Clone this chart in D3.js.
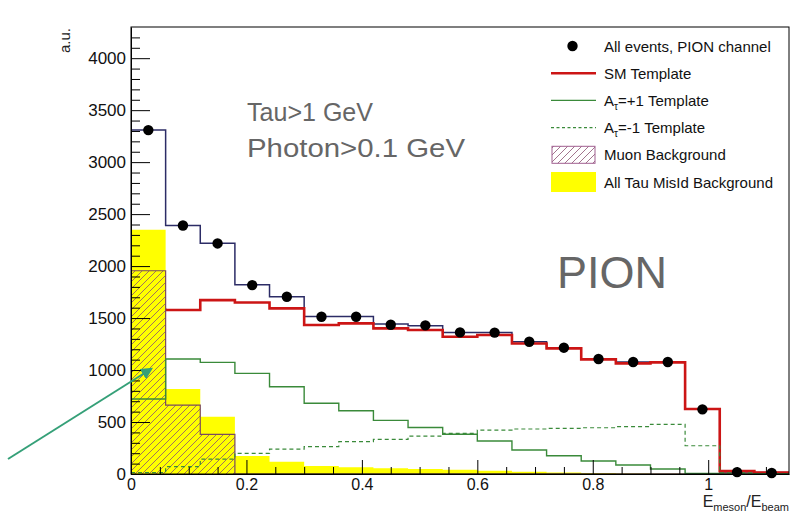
<!DOCTYPE html>
<html>
<head>
<meta charset="utf-8">
<script src="https://d3js.org/d3.v7.min.js"></script>
<style>
  body { margin: 0; background: #fff; }
  svg text { font-family: "Liberation Sans", Arial, sans-serif; }
</style>
</head>
<body>
<svg id="chart" width="790" height="515"></svg>
<script>
// histogram bins in E_meson/E_beam
const binEdges = [0, 0.06, 0.12, 0.18, 0.24, 0.30, 0.36, 0.42, 0.48, 0.54, 0.60,
                  0.66, 0.72, 0.78, 0.84, 0.90, 0.96, 1.02, 1.08, 1.14];

// values per bin (a.u.)
const allEvents  = [3308, 2390, 2218, 1817, 1705, 1513, 1513, 1436, 1430, 1362,
                    1360, 1272, 1215, 1106, 1077, 1077, 622, 18, 10];
const totalFit   = [3310, 2390, 2220, 1820, 1705, 1515, 1515, 1442, 1426, 1362,
                    1360, 1272, 1215, 1106, 1077, 1077, 622, 20, 14];
const smTemplate = [1580, 1577, 1673, 1650, 1593, 1433, 1449, 1401, 1385, 1320,
                    1337, 1256, 1208, 1103, 1064, 1074, 625, 28, 15];
const plusOne    = [721, 1106, 1074, 968, 840, 680, 609, 516, 447, 383,
                    317, 231, 176, 125, 87, 48, 5, 0, 0];
const minusOne   = [13, 70, 144, 199, 240, 263, 311, 333, 365, 391,
                    423, 433, 439, 445, 455, 478, 272, 10, 5];
const tauMisId   = [2350, 817, 551, 173, 119, 77, 64, 55, 48, 42,
                    32, 22, 15, 10, 6, 3, 0, 0, 0];
const muonBkg    = [1955, 663, 381, 0, 0, 0, 0, 0, 0, 0,
                    0, 0, 0, 0, 0, 0, 0, 0, 0];

const xTicks = [0, 0.2, 0.4, 0.6, 0.8, 1];
const yTicks = [0, 500, 1000, 1500, 2000, 2500, 3000, 3500, 4000];

const legendLabels = ['All events, PION channel', 'SM Template', 'A|τ|=+1 Template',
                      'A|τ|=-1 Template', 'Muon Background', 'All Tau MisId Background'];

const svg = d3.select('#chart');
const margin = {top: 27, right: 1, bottom: 41, left: 131};
const W = 790, H = 515;

const x = d3.scaleLinear().domain([0, 1.14]).range([margin.left, W - margin.right]);
const y = d3.scaleLinear().domain([0, 4300]).range([H - margin.bottom, margin.top]);

// hatch pattern for the muon background
const defs = svg.append('defs');
const pat = defs.append('pattern')
    .attr('id', 'hatch')
    .attr('patternUnits', 'userSpaceOnUse')
    .attr('width', 7).attr('height', 7);
pat.append('path')
    .attr('d', 'M0,7 L7,0 M-1,1 L1,-1 M6,8 L8,6')
    .attr('stroke', '#8a5070')
    .attr('stroke-width', 0.8);

// step helpers
function stepPoints(vals) {
    const pts = vals.map((v, i) => [binEdges[i], v]);
    pts.push([binEdges[vals.length], vals[vals.length - 1]]);
    return pts;
}
const stepLine = d3.line()
    .x(d => x(d[0])).y(d => y(d[1]))
    .curve(d3.curveStepAfter);
const stepArea = d3.area()
    .x(d => x(d[0])).y0(y(0)).y1(d => y(d[1]))
    .curve(d3.curveStepAfter);

const plot = svg.append('g');

// total (blue) and SM template (red)
plot.append('path')
    .attr('d', stepLine(stepPoints(totalFit)))
    .attr('fill', 'none')
    .attr('stroke', '#2c2c66')
    .attr('stroke-width', 1.5);
plot.append('path')
    .attr('d', stepLine(stepPoints(smTemplate)))
    .attr('fill', 'none')
    .attr('stroke', '#cc1515')
    .attr('stroke-width', 2.6);

// backgrounds
plot.append('path')
    .attr('d', stepArea(stepPoints(tauMisId)))
    .attr('fill', '#ffff00')
    .attr('stroke', 'none');
plot.append('path')
    .attr('d', stepArea(stepPoints(muonBkg)))
    .attr('fill', 'url(#hatch)')
    .attr('stroke', 'none');
plot.append('path')
    .attr('d', stepLine(stepPoints(muonBkg)))
    .attr('fill', 'none')
    .attr('stroke', '#7a4a60')
    .attr('stroke-width', 1.2);

// A_tau templates
plot.append('path')
    .attr('d', stepLine(stepPoints(plusOne)))
    .attr('fill', 'none')
    .attr('stroke', '#3a8a3a')
    .attr('stroke-width', 1.4);
plot.append('path')
    .attr('d', stepLine(stepPoints(minusOne)))
    .attr('fill', 'none')
    .attr('stroke', '#3a8a3a')
    .attr('stroke-width', 1.2)
    .attr('stroke-dasharray', '4,3');

// data points
plot.selectAll('circle.pt')
    .data(allEvents)
    .join('circle')
    .attr('class', 'pt')
    .attr('cx', (d, i) => x((binEdges[i] + binEdges[i + 1]) / 2))
    .attr('cy', d => y(d))
    .attr('r', 5.2)
    .attr('fill', '#000');

// frame
svg.append('rect')
    .attr('x', x(0)).attr('y', y(4300))
    .attr('width', x(1.14) - x(0)).attr('height', y(0) - y(4300))
    .attr('fill', 'none').attr('stroke', '#000').attr('stroke-width', 1);

// axes, ROOT style: ticks pointing inward
const yMinor = d3.range(0, 4300, 100).filter(v => v % 500 !== 0);
svg.append('g')
    .attr('transform', `translate(${x(0)},0)`)
    .call(d3.axisLeft(y).tickValues(yMinor).tickSize(-9).tickFormat(''))
    .call(g => g.select('.domain').remove());
svg.append('g')
    .attr('transform', `translate(${x(0)},0)`)
    .call(d3.axisLeft(y).tickValues(yTicks).tickSize(-19).tickSizeOuter(0).tickPadding(5)
        .tickFormat(d3.format('d')))
    .call(g => g.select('.domain').attr('stroke', '#000'))
    .call(g => g.selectAll('text').attr('font-size', 17).attr('fill', '#111'));

const xMinor = d3.range(0.05, 1.14, 0.05).filter(v => Math.abs(v * 5 - Math.round(v * 5)) > 1e-6);
svg.append('g')
    .attr('transform', `translate(0,${y(0)})`)
    .call(d3.axisBottom(x).tickValues(xMinor).tickSize(-7).tickFormat(''))
    .call(g => g.select('.domain').remove());
svg.append('g')
    .attr('transform', `translate(0,${y(0)})`)
    .call(d3.axisBottom(x).tickValues(xTicks).tickSize(-14).tickSizeOuter(0).tickPadding(5)
        .tickFormat(d3.format('~g')))
    .call(g => g.select('.domain').attr('stroke', '#000'))
    .call(g => g.selectAll('text').attr('font-size', 16).attr('fill', '#111'));

// axis titles
svg.append('text')
    .attr('transform', `translate(70,53) rotate(-90)`)
    .attr('text-anchor', 'start')
    .attr('font-size', 15)
    .attr('fill', '#222')
    .text('a.u.');

const xt = svg.append('text')
    .attr('x', 789).attr('y', 507)
    .attr('text-anchor', 'end')
    .attr('font-size', 16)
    .attr('fill', '#222');
xt.append('tspan').text('E');
xt.append('tspan').attr('font-size', 11).attr('dy', 4).text('meson');
xt.append('tspan').attr('dy', -4).text('/E');
xt.append('tspan').attr('font-size', 11).attr('dy', 4).text('beam');

// legend
const lg = svg.append('g').attr('font-size', 15).attr('fill', '#111');
const rowY = i => 46 + i * 27.2;
const symX0 = 551, symX1 = 596, txtX = 604;
legendLabels.forEach((lab, i) => {
    const t = lg.append('text').attr('x', txtX).attr('y', rowY(i) + 5.5);
    const parts = lab.split('|');
    t.append('tspan').text(parts[0]);
    if (parts.length > 1) {
        t.append('tspan').attr('font-size', 10).attr('dy', 4).text(parts[1]);
        t.append('tspan').attr('dy', -4).text(parts[2]);
    }
});
lg.append('circle').attr('cx', (symX0 + symX1) / 2 - 1).attr('cy', rowY(0)).attr('r', 5.2).attr('fill', '#000');
lg.append('line').attr('x1', symX0).attr('x2', symX1).attr('y1', rowY(1)).attr('y2', rowY(1))
    .attr('stroke', '#cc1515').attr('stroke-width', 2.6);
lg.append('line').attr('x1', symX0).attr('x2', symX1).attr('y1', rowY(2)).attr('y2', rowY(2))
    .attr('stroke', '#3a8a3a').attr('stroke-width', 1.4);
lg.append('line').attr('x1', symX0).attr('x2', symX1).attr('y1', rowY(3)).attr('y2', rowY(3))
    .attr('stroke', '#3a8a3a').attr('stroke-width', 1.2).attr('stroke-dasharray', '3,2.5');
lg.append('rect').attr('x', symX0 + 1).attr('y', rowY(4) - 8.5).attr('width', 43).attr('height', 17)
    .attr('fill', 'url(#hatch)').attr('stroke', '#a06090').attr('stroke-width', 1);
lg.append('rect').attr('x', symX0).attr('y', rowY(5) - 10).attr('width', 45).attr('height', 20)
    .attr('fill', '#ffff00');

// annotations
const note = svg.append('g').attr('fill', '#666')
    .style('font-family', 'Lato, "Open Sans", sans-serif')
    .style('font-weight', 300);
note.append('text').attr('x', 247).attr('y', 121)
    .attr('font-size', 26)
    .attr('textLength', 126).attr('lengthAdjust', 'spacingAndGlyphs')
    .text('Tau>1 GeV');
note.append('text').attr('x', 247).attr('y', 157)
    .attr('font-size', 26)
    .attr('textLength', 218).attr('lengthAdjust', 'spacingAndGlyphs')
    .text('Photon>0.1 GeV');
note.append('text').attr('x', 557).attr('y', 288)
    .attr('font-size', 45)
    .text('PION');

// arrow pointing at the muon background
defs.append('marker')
    .attr('id', 'arrowhead')
    .attr('viewBox', '0 0 10 10')
    .attr('refX', 8).attr('refY', 5)
    .attr('markerWidth', 6).attr('markerHeight', 6)
    .attr('orient', 'auto')
    .append('path')
    .attr('d', 'M0,0 L10,5 L0,10 z')
    .attr('fill', '#35a078');
svg.append('line')
    .attr('x1', 8).attr('y1', 459)
    .attr('x2', 151).attr('y2', 369)
    .attr('stroke', '#35a078')
    .attr('stroke-width', 2)
    .attr('marker-end', 'url(#arrowhead)');
</script>
</body>
</html>
